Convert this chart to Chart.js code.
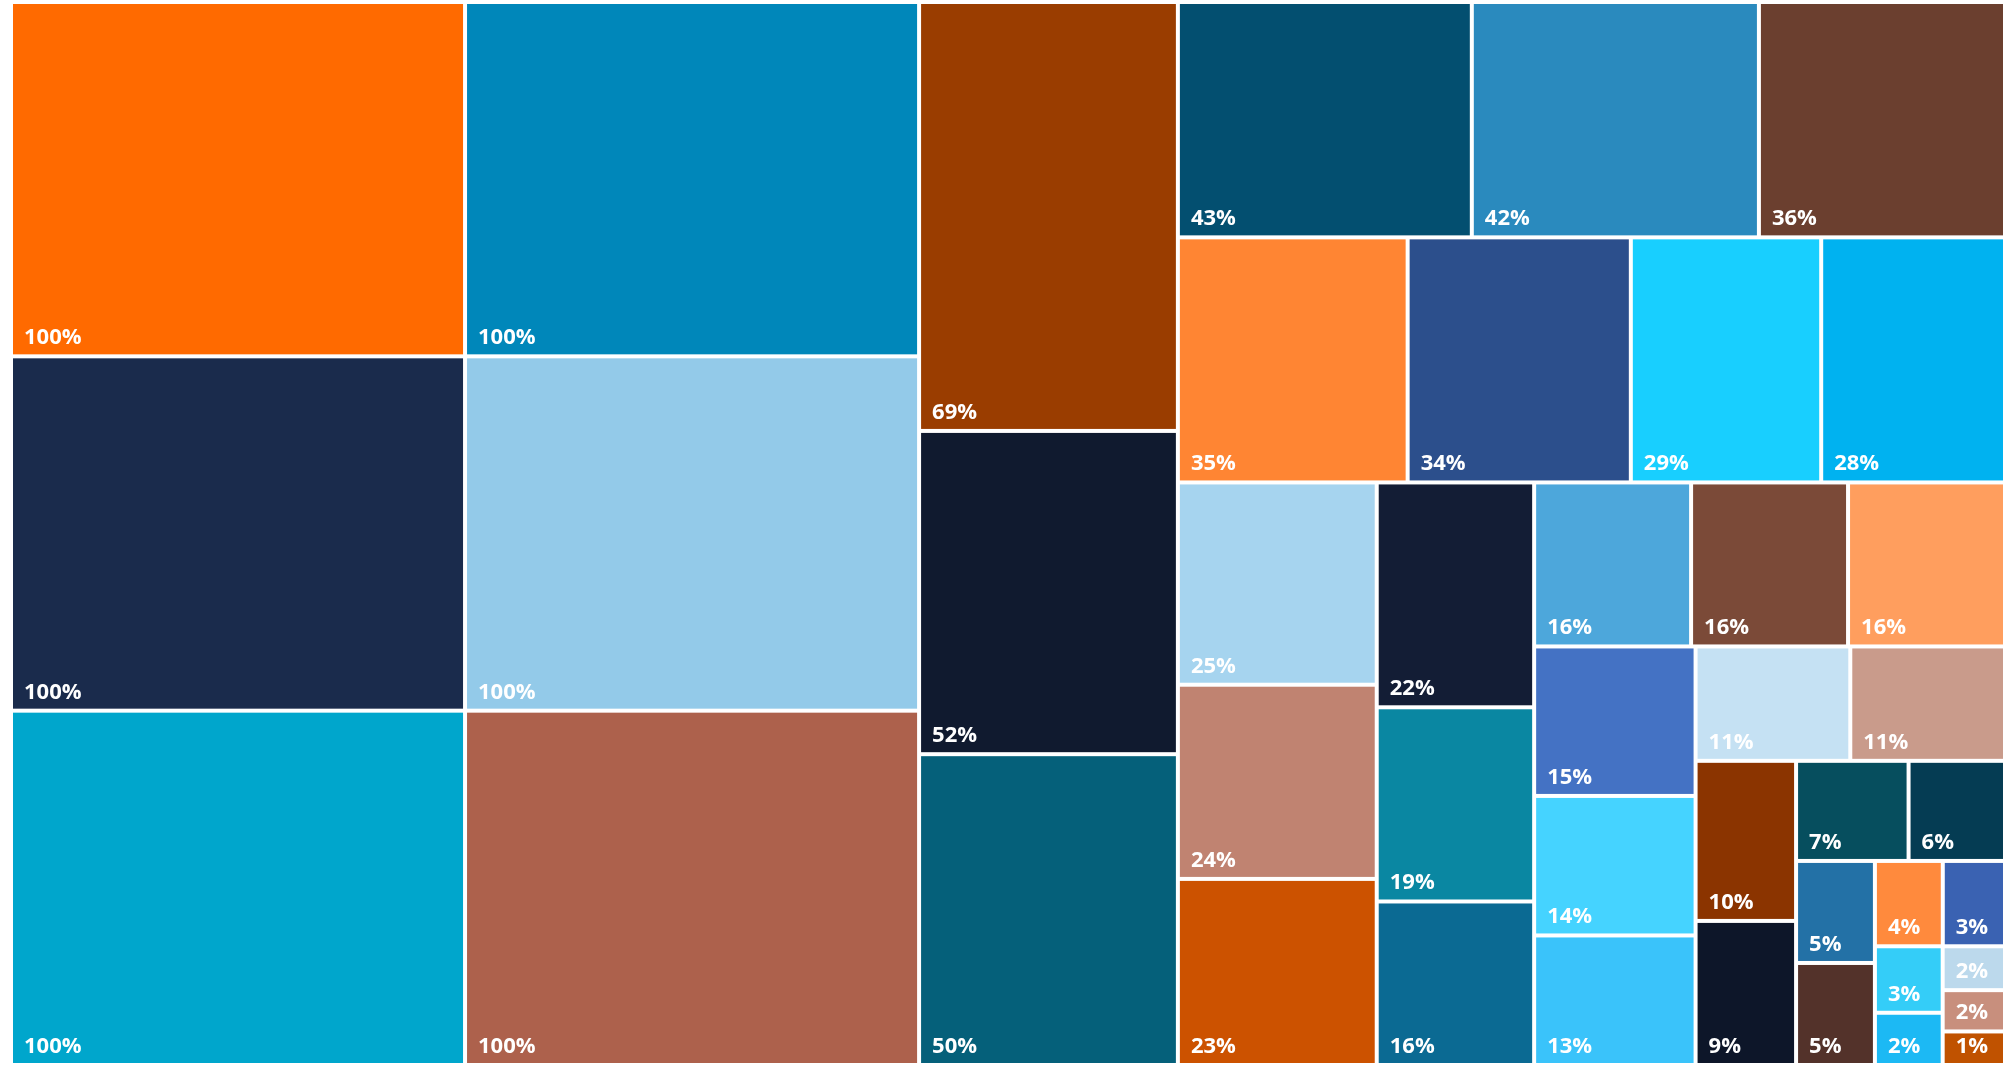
<!DOCTYPE html>
<html>
<head>
<meta charset="utf-8">
<script src="https://cdn.jsdelivr.net/npm/chart.js@4.4.1/dist/chart.umd.min.js"></script>
<style>
  html, body { margin: 0; padding: 0; background: #fff; overflow: hidden; }
  #wrap { width: 2008px; height: 1065px; position: relative; }
</style>
</head>
<body>
<div id="wrap"><canvas id="treemapChart"></canvas></div>
<script>
// tile values (percent), biggest first - the small ones are read from their area
const shares = [
  100, 100, 100, 100, 100, 100,
  69, 52, 50,
  43, 42, 36,
  35, 34, 29, 28,
  25, 24, 23,
  22, 19, 16,
  16, 16, 16,
  15, 14, 13,
  11, 11,
  10, 9,
  7, 6,
  5, 5,
  3.6, 3.3,
  2.8, 2.2,
  1.7, 1.6, 1.3
];

const tileColors = [
  "#ff6a00", "#1a2b4c", "#00a6cc", "#0087ba", "#93cae9", "#ad614c",
  "#9a3d00", "#101a2f", "#05607a",
  "#034f70", "#2a8abe", "#6b3f2f",
  "#ff8533", "#2c4f8c", "#18cfff", "#00b2f0",
  "#a6d4ef", "#c08371", "#cc5200",
  "#131d35", "#0a87a2", "#0b6a93",
  "#4da7db", "#7b4a38", "#ff9e5e",
  "#4472c4", "#45d3ff", "#3ac3fa",
  "#c5e1f3", "#c99b8b",
  "#8b3400", "#0d1629",
  "#064e5e", "#053c53",
  "#2371a6", "#53322a",
  "#ff8a3d", "#3a62b2",
  "#34cdf8", "#1cb9f4",
  "#bcd9ec", "#c88f7d", "#c05200"
];

// how many tiles go in each strip, and whether the strip is a column or a row
const stripCounts = [3, 3, 3, 3, 4, 3, 3, 3, 3, 2, 2, 2, 2, 2, 2, 1, 1, 1];
const stripAxis = ["col", "col", "col", "row", "row", "col", "col", "row", "col",
                   "row", "col", "row", "col", "row", "col", "row", "row", "col"];

const GAP = 4;

// split the area into strips, in data units
function layoutTiles(values, spanX, spanY) {
  const total = values.reduce((a, b) => a + b, 0);
  const unit = (spanX * spanY) / total;
  let rect = { x: 0, y: 0, w: spanX, h: spanY };
  const tiles = [];
  let idx = 0;

  stripCounts.forEach((count, s) => {
    const group = values.slice(idx, idx + count);
    const area = group.reduce((a, b) => a + b, 0) * unit;

    if (stripAxis[s] === "col") {
      const thick = area / rect.h;
      let yy = rect.y;
      group.forEach(v => {
        const hh = (v * unit) / thick;
        tiles.push({ x0: rect.x, x1: rect.x + thick, y0: yy, y1: yy + hh, value: v });
        yy += hh;
      });
      rect = { x: rect.x + thick, y: rect.y, w: rect.w - thick, h: rect.h };
    } else {
      const thick = area / rect.w;
      let xx = rect.x;
      group.forEach(v => {
        const ww = (v * unit) / thick;
        tiles.push({ x0: xx, x1: xx + ww, y0: rect.y, y1: rect.y + thick, value: v });
        xx += ww;
      });
      rect = { x: rect.x, y: rect.y + thick, w: rect.w, h: rect.h - thick };
    }
    idx += count;
  });

  return tiles;
}

const treemapPlugin = {
  id: "treemapTiles",
  afterDatasetsDraw(chart) {
    const { ctx, scales: { x, y } } = chart;
    const tiles = layoutTiles(shares, x.max - x.min, y.max - y.min);

    ctx.save();
    tiles.forEach((t, i) => {
      const left = x.getPixelForValue(t.x0) + GAP / 2;
      const right = x.getPixelForValue(t.x1) - GAP / 2;
      const top = y.getPixelForValue(t.y0) + GAP / 2;
      const bottom = y.getPixelForValue(t.y1) - GAP / 2;

      ctx.fillStyle = tileColors[i];
      ctx.fillRect(left, top, right - left, bottom - top);

      ctx.fillStyle = "#ffffff";
      ctx.font = '700 22px "Open Sans", "Noto Sans", sans-serif';
      ctx.textAlign = "left";
      ctx.textBaseline = "alphabetic";
      ctx.fillText(Math.round(t.value) + "%", left + 11, bottom - 10);
    });
    ctx.restore();
  }
};

const ctx = document.getElementById("treemapChart").getContext("2d");

new Chart(ctx, {
  type: "scatter",
  data: { datasets: [{ data: [] }] },
  options: {
    responsive: true,
    maintainAspectRatio: false,
    animation: false,
    layout: { padding: { left: 11, top: 2, right: 3, bottom: 0 } },
    plugins: {
      legend: { display: false },
      tooltip: { enabled: false }
    },
    scales: {
      x: { type: "linear", min: 0, max: 1994, display: false },
      y: { type: "linear", min: 0, max: 1063, reverse: true, display: false }
    }
  },
  plugins: [treemapPlugin]
});
</script>
</body>
</html>
